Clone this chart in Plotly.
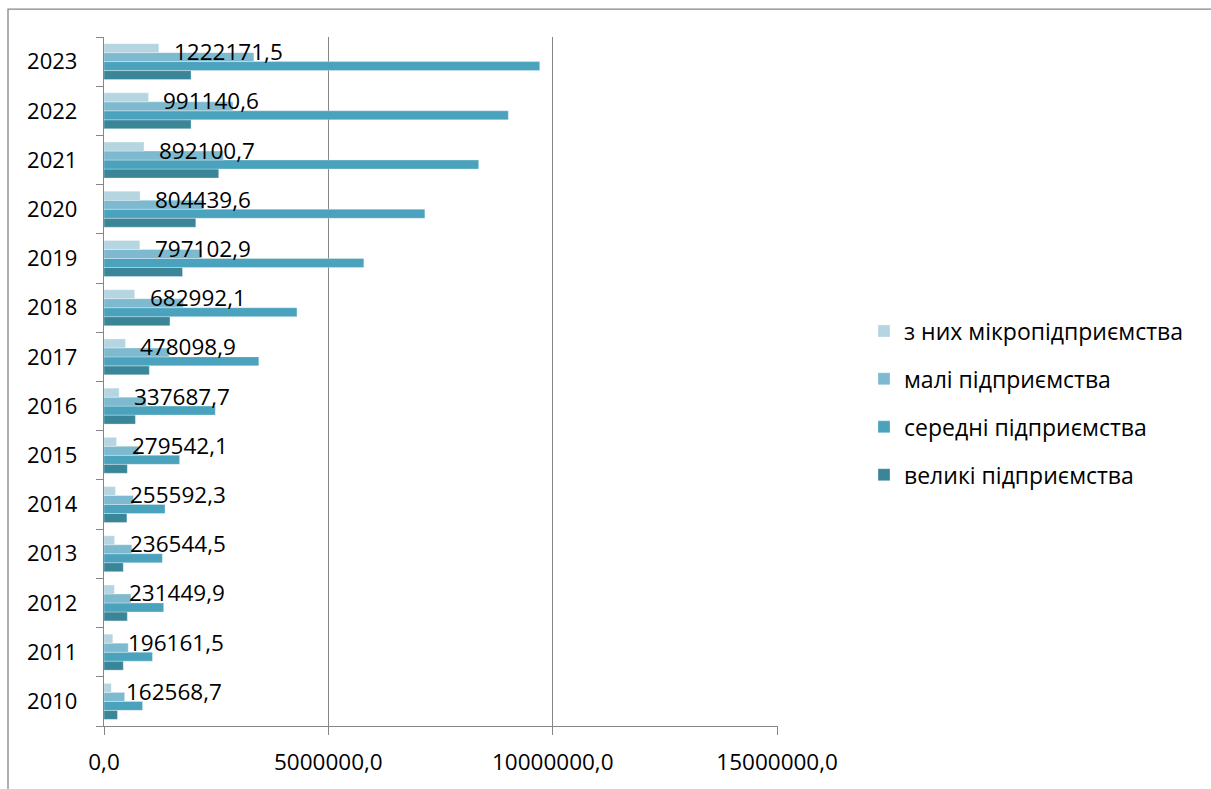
import plotly.graph_objects as go

years = [str(y) for y in range(2010, 2024)]
micro = [162568.7, 196161.5, 231449.9, 236544.5, 255592.3, 279542.1, 337687.7,
         478098.9, 682992.1, 797102.9, 804439.6, 892100.7, 991140.6, 1222171.5]
small = [460000, 540000, 600000, 620000, 655000, 770000, 940000,
         1450000, 1770000, 2180000, 2220000, 2660000, 2875000, 3340000]
medium = [860000, 1080000, 1330000, 1300000, 1360000, 1685000, 2480000,
          3450000, 4300000, 5790000, 7150000, 8350000, 9010000, 9710000]
large = [300000, 430000, 520000, 430000, 510000, 520000, 700000,
         1010000, 1470000, 1750000, 2045000, 2556000, 1940000, 1940000]

names = ["з них мікропідприємства", "малі підприємства",
         "середні підприємства", "великі підприємства"]
colors = ["#B5D5E0", "#7DB9CF", "#4AA2BC", "#3A8598"]
x_ticks = [0, 5000000, 10000000, 15000000]

series = [micro, small, medium, large]

fig = go.Figure()
# add in reverse order so micro is on top within each group
for i in [3, 2, 1, 0]:
    fig.add_trace(go.Bar(
        y=years, x=series[i], orientation="h", name=names[i],
        marker=dict(color=colors[i], line=dict(color="rgba(255,255,255,0.6)", width=0.5)),
        legendgroup=f"g{i}", legendrank=i + 1,
    ))

font_family = "Open Sans, Liberation Sans, sans-serif"

for idx, v in enumerate(micro):
    fig.add_annotation(
        x=v, y=idx, xref="x", yref="y",
        text=f"{v:.1f}".replace(".", ","),
        showarrow=False, xanchor="left", yanchor="middle",
        xshift=13, yshift=10,
        font=dict(family=font_family, size=22.5, color="#000000"),
    )

L, R, T, B = 104, 778, 37, 728
W, H = 1211, 789
pw, ph = R - L, B - T

def px(x):
    return (x - L) / pw

def py(y):
    return (B - y) / ph

fig.add_shape(type="rect", xref="paper", yref="paper",
              x0=px(8), x1=px(1260), y0=py(840), y1=py(9),
              line=dict(color="#868686", width=1.3), layer="below")

fig.update_layout(
    width=W, height=H,
    margin=dict(l=L, r=W - R, t=T, b=H - B),
    barmode="group", bargap=0.27, bargroupgap=0,
    plot_bgcolor="white", paper_bgcolor="white",
    separators=", ",
    font=dict(family=font_family, size=21, color="#000000"),
    showlegend=True,
    legend=dict(
        traceorder="grouped", tracegroupgap=15,
        xref="container", yref="container",
        x=864 / W, y=1 - 403 / H, xanchor="left", yanchor="middle",
        font=dict(family=font_family, size=23, color="#000000"),
        itemwidth=30, bgcolor="rgba(0,0,0,0)",
    ),
    xaxis=dict(
        range=[0, 15020000], tickvals=x_ticks,
        tickformat=".1f",
        showgrid=True, gridcolor="#868686", gridwidth=1,
        showline=True, linecolor="#868686", linewidth=1.3,
        ticks="outside", ticklen=8, tickcolor="#868686",
        zeroline=False, ticklabelstandoff=8,
        tickfont=dict(family=font_family, size=22.5),
    ),
    yaxis=dict(
        type="category", categoryorder="array", categoryarray=years,
        range=[-0.5, len(years) - 0.5], autorange=False,
        showline=True, linecolor="#868686", linewidth=1.3,
        ticks="outside", ticklen=7, tickcolor="#868686", tickson="boundaries",
        showgrid=False, ticklabelstandoff=21,
        tickfont=dict(family=font_family, size=22),
    ),
)

fig.write_html("out.html")
